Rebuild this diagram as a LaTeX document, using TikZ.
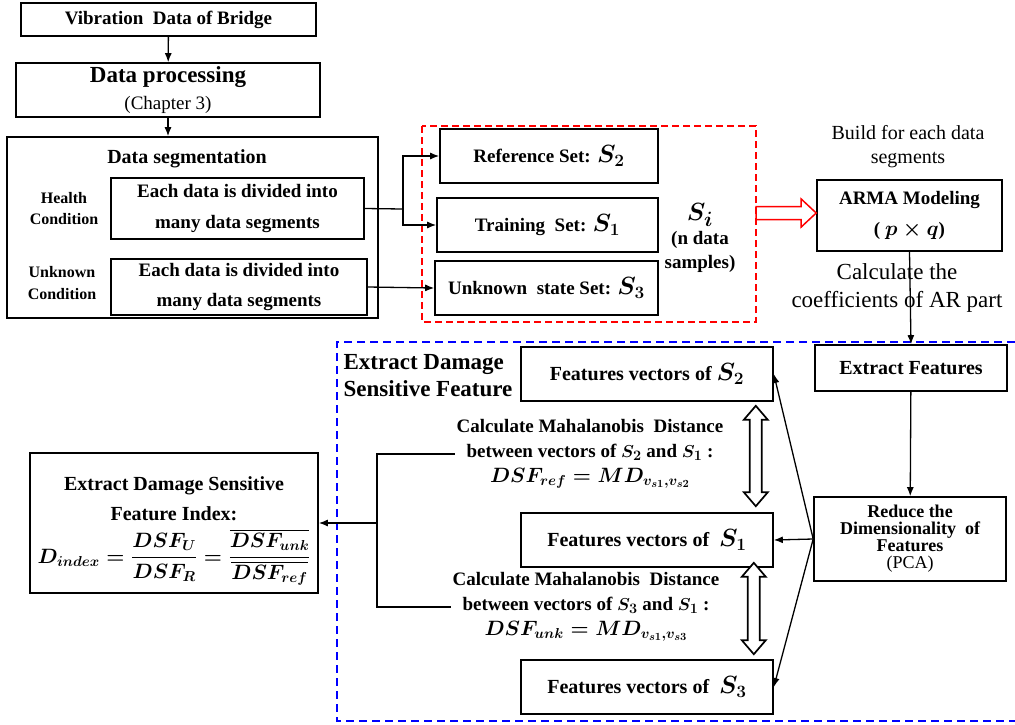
\documentclass[tikz,border=0pt]{standalone}
\usepackage{amsmath}
\usepackage{fontspec}
\setmainfont{Liberation Serif}
\usetikzlibrary{calc,arrows.meta}

\tikzset{
	box/.style={draw, line width=1.6pt, align=center, inner sep=1pt},
	conn/.style={line width=1.3pt},
	arr/.style={line width=1.3pt, -{Latex[length=9pt,width=7pt]}},
	txt/.style={align=center, inner sep=2pt},
	hollowarr/.style={draw=black, line width=1.7pt, fill=white, line join=miter},
}
\def\fs#1#2{\fontsize{#1}{#2}\selectfont}
\def\dblarrow(#1)(#2){\draw[hollowarr] (#1) -- ++(12,14) -- ++(-6,0) -- ($(#2)+(6,-14)$) -- ++(6,0) -- (#2) -- ++(-12,-14) -- ++(6,0) -- ($(#1)+(-6,14)$) -- ++(-6,0) -- cycle;}
\def\redarrow(#1)(#2){\draw[hollowarr, draw=red, line width=1.5pt] ($(#1)+(0,-6.5)$) -- ($(#2)+(-15,-6.5)$) -- ++(0,-7.5) -- (#2) -- ($(#2)+(-15,14)$) -- ++(0,-7.5) -- ($(#1)+(0,6.5)$) -- cycle;}

\begin{document}
\begin{tikzpicture}[x=1pt, y=-1pt]
		%%%%% START %%%%%
		\useasboundingbox (0,0) rectangle (1015,724);
		
		\node[box, minimum width=295pt, minimum height=33pt, font=\fs{19}{24}\bfseries] (vib) at (168.5,19.5) {Vibration\ \ Data of Bridge};
		\node[box, minimum width=304pt, minimum height=54pt, font=\fs{19}{27}] (proc) at (168,90) {{\fs{23}{27}\bfseries Data processing}\\(Chapter 3)};
		\draw[arr] (vib) -- (proc);
		
		\node[box, minimum width=371pt, minimum height=181pt] (seg) at (192.5,227.5) {};
		\draw[arr] (proc.south) -- (proc.south |- seg.north);
		\node[txt, font=\fs{20}{24}\bfseries] (segtitle) at (187,159) {Data segmentation};
		
		\node[box, minimum width=253pt, minimum height=61pt, font=\fs{19}{31}\bfseries] (hdata) at (237.5,208.5) {Each data is divided into\\many data segments};
		\node[box, minimum width=256pt, minimum height=56pt, font=\fs{19}{30}\bfseries] (udata) at (239,287) {Each data is divided into\\many data segments};
		\node[txt, font=\fs{16}{21}\bfseries] (hlab) at (64,209) {Health\\Condition};
		\node[txt, font=\fs{16}{22}\bfseries] (ulab) at (62,283) {Unknown\\Condition};
		
		% the three sets
		\draw[red, line width=1.5pt, dash pattern=on 7pt off 4pt] (422,126) rectangle (756,322);
		\node[box, minimum width=218pt, minimum height=54pt, font=\fs{19}{24}\bfseries\boldmath] (refset) at (549,156) {Reference Set: {\fs{23}{24}$S_2$}};
		\node[box, minimum width=221pt, minimum height=54pt, font=\fs{19}{24}\bfseries\boldmath] (trainset) at (547.5,225) {Training\ \ Set: {\fs{23}{24}$S_1$}};
		\node[box, minimum width=223pt, minimum height=54pt, font=\fs{19}{24}\bfseries\boldmath] (unkset) at (546.5,288) {Unknown\ \ state Set: {\fs{23}{24}$S_3$}};
		\node[txt, font=\fs{19}{24}\bfseries\boldmath] (si) at (700,238) {{\fs{30}{24}$S_i$}\\(n data\\samples)};
		
		\coordinate (jn) at (403,209);
		\draw[conn] (hdata.east) -- (jn);
		\draw[arr] (jn) |- (refset.west);
		\draw[arr] (jn) |- (trainset.west);
		\draw[arr] (udata.east) -- (unkset.west);
		
		% ARMA model
		\node[txt, font=\fs{20}{24}] (build) at (908,147) {Build for each data\\segments};
		\node[box, minimum width=185pt, minimum height=71pt, font=\fs{19}{31}\bfseries\boldmath] (arma) at (909.5,215.5) {ARMA Modeling\\( {\fs{22}{31}$p\times q$})};
		\coordinate (grp) at (756,213);
		\path (grp -| arma.west) coordinate (grptip);
		\redarrow(grp)(grptip)
		
		\draw[blue, line width=1.5pt, dash pattern=on 8pt off 5pt] (1015,342) -- (337,342) -- (337,721) -- (1015,721);
		\node[txt, font=\fs{23}{27}\bfseries, align=left] (dsf) at (428,376) {Extract Damage\\Sensitive Feature};
		
		\node[box, minimum width=192pt, minimum height=46pt, font=\fs{20}{24}\bfseries] (extract) at (911,368) {Extract Features};
		\node[box, minimum width=192pt, minimum height=84pt, font=\fs{18}{17}\bfseries] (reduce) at (910,539) {Reduce the\\Dimensionality\ \ of\\Features\\{\mdseries (PCA)}};
		\draw[arr] (arma.south) -- (extract.north);
		\node[txt, font=\fs{23}{28}] (coef) at (897,288) {Calculate the\\coefficients of AR part};
		\draw[arr] (extract) -- (reduce);
		
		% feature vectors
		\node[box, minimum width=252pt, minimum height=54pt, font=\fs{20}{24}\bfseries\boldmath] (fv2) at (647,374) {Features vectors of {\fs{23}{24}$S_2$}};
		\node[box, minimum width=252pt, minimum height=54pt, font=\fs{20}{24}\bfseries\boldmath] (fv1) at (647,540) {Features vectors of\ \ {\fs{23}{24}$S_1$}};
		\node[box, minimum width=252pt, minimum height=54pt, font=\fs{20}{24}\bfseries\boldmath] (fv3) at (647,687) {Features vectors of\ \ {\fs{23}{24}$S_3$}};
		\draw[arr] (reduce.west) -- (fv2.east);
		\draw[arr] (reduce.west) -- (fv1.east);
		\draw[arr] (reduce.west) -- (fv3.east);
		
		\coordinate (d1a) at ($(fv2.south east)+(-18,4)$);
		\coordinate (d1b) at ($(fv1.north east)+(-18,-6)$);
		\coordinate (d2a) at ($(fv1.south east)+(-20,-5)$);
		\coordinate (d2b) at ($(fv3.north east)+(-20,-5)$);
		\dblarrow(d1a)(d1b)
		\dblarrow(d2a)(d2b)
		
		\node[txt, font=\fs{19}{25}\bfseries\boldmath] (md1) at (590,454) {Calculate Mahalanobis\ \ Distance\\between vectors of $S_2$ and $S_1$ :\\{\fs{22}{25}$DSF_{ref}=MD_{v_{s1},v_{s2}}$}};
		\node[txt, font=\fs{19}{25}\bfseries\boldmath] (md2) at (586,607) {Calculate Mahalanobis\ \ Distance\\between vectors of $S_3$ and $S_1$ :\\{\fs{22}{25}$DSF_{unk}=MD_{v_{s1},v_{s3}}$}};
		
		% index
		\node[box, minimum width=288pt, minimum height=140pt, font=\fs{20}{30}\bfseries\boldmath] (index) at (174,523) {\rule{0pt}{30pt}Extract Damage Sensitive\\Feature Index:\\[7pt]{\fs{22}{30}$D_{index}=\dfrac{DSF_U}{DSF_R}=\dfrac{\overline{DSF_{unk}}}{\overline{DSF_{ref}}}$}};
		\coordinate (brk) at (377,523);
		\draw[conn] (md1.west) -| (brk) |- (md2.west);
		\draw[arr] (brk) -- (index.east);
		%%%%% END %%%%%
\end{tikzpicture}
\end{document}
